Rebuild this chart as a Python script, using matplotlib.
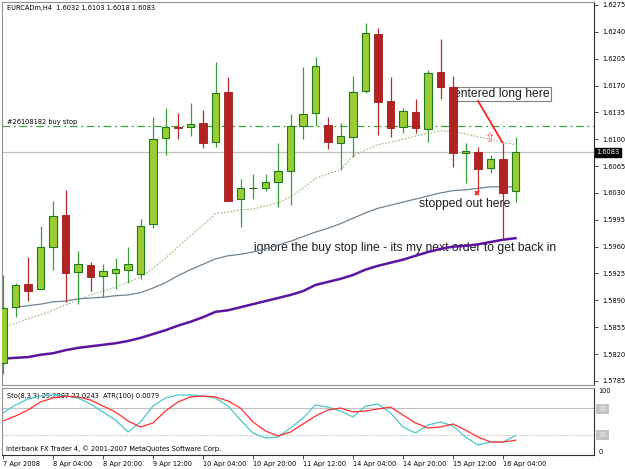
import numpy as np
import matplotlib.pyplot as plt
import matplotlib.transforms as mtransforms

# EURCADm, H4 -- one entry per bar, 7 Apr 12:00 .. 16 Apr 08:00
opens = [1.5808, 1.5881, 1.5911, 1.5905, 1.5960, 1.6001, 1.5927, 1.5936, 1.5922, 1.5926,
         1.5930, 1.5924, 1.5990, 1.6102, 1.6116, 1.6116, 1.6121, 1.6096, 1.6162, 1.6022,
         1.6036, 1.6036, 1.6044, 1.6059, 1.6117, 1.6134, 1.6119, 1.6095, 1.6103, 1.6163,
         1.6237, 1.6150, 1.6116, 1.6136, 1.6113, 1.6188, 1.6168, 1.6082, 1.6083, 1.6062,
         1.6074, 1.6032]
highs = [1.5923, 1.5913, 1.5947, 1.5987, 1.6020, 1.6034, 1.5954, 1.5940, 1.5937, 1.5945,
         1.5960, 1.5996, 1.6129, 1.6141, 1.6134, 1.6147, 1.6138, 1.6201, 1.6181, 1.6048,
         1.6055, 1.6055, 1.6095, 1.6133, 1.6194, 1.6207, 1.6129, 1.6121, 1.6182, 1.6252,
         1.6245, 1.6181, 1.6141, 1.6152, 1.6190, 1.6231, 1.6182, 1.6095, 1.6090, 1.6079,
         1.6095, 1.6103]
lows = [1.5794, 1.5868, 1.5889, 1.5905, 1.5930, 1.5888, 1.5885, 1.5902, 1.5894, 1.5905,
        1.5913, 1.5918, 1.5984, 1.6079, 1.6100, 1.6104, 1.6089, 1.6090, 1.6019, 1.5986,
        1.6022, 1.6033, 1.6012, 1.6014, 1.6100, 1.6117, 1.6087, 1.6060, 1.6077, 1.6160,
        1.6106, 1.6103, 1.6108, 1.6108, 1.6096, 1.6152, 1.6064, 1.6043, 1.6033, 1.6056,
        1.5970, 1.6018]
closes = [1.5880, 1.5910, 1.5902, 1.5960, 1.6000, 1.5926, 1.5937, 1.5920, 1.5928, 1.5931,
          1.5937, 1.5987, 1.6100, 1.6116, 1.6115, 1.6120, 1.6095, 1.6160, 1.6020, 1.6036,
          1.6037, 1.6044, 1.6059, 1.6117, 1.6133, 1.6195, 1.6096, 1.6104, 1.6162, 1.6238,
          1.6149, 1.6115, 1.6137, 1.6115, 1.6186, 1.6168, 1.6082, 1.6085, 1.6061, 1.6074,
          1.6030, 1.6083]

# moving averages
ma_fast = [1.5855, 1.5860, 1.5866, 1.5871, 1.5877, 1.5884, 1.5890, 1.5897, 1.5902, 1.5907,
           1.5914, 1.5920, 1.5932, 1.5945, 1.5960, 1.5974, 1.5988, 1.6003, 1.6005, 1.6008,
           1.6009, 1.6013, 1.6017, 1.6025, 1.6036, 1.6049, 1.6055, 1.6060, 1.6078, 1.6086,
           1.6093, 1.6096, 1.6100, 1.6104, 1.6108, 1.6111, 1.6110, 1.6107, 1.6103, 1.6100,
           1.6096, 1.6093]
ma_mid = [np.nan, 1.5881, 1.5883, 1.5885, 1.5888, 1.5889, 1.5892, 1.5893, 1.5894, 1.5896,
          1.5897, 1.5900, 1.5906, 1.5913, 1.5922, 1.5930, 1.5937, 1.5944, 1.5948, 1.5950,
          1.5953, 1.5957, 1.5962, 1.5967, 1.5973, 1.5979, 1.5984, 1.5990, 1.5997, 1.6004,
          1.6010, 1.6014, 1.6018, 1.6022, 1.6026, 1.6030, 1.6033, 1.6034, 1.6036, 1.6038,
          1.6038, 1.6038]
ma_slow = [1.5814, 1.5815, 1.5816, 1.5819, 1.5821, 1.5825, 1.5828, 1.5830, 1.5832, 1.5834,
           1.5837, 1.5841, 1.5846, 1.5851, 1.5857, 1.5862, 1.5868, 1.5875, 1.5877, 1.5881,
           1.5885, 1.5889, 1.5893, 1.5897, 1.5902, 1.5910, 1.5914, 1.5918, 1.5923, 1.5930,
           1.5935, 1.5939, 1.5943, 1.5948, 1.5953, 1.5957, 1.5960, 1.5961, 1.5963, 1.5966,
           1.5969, 1.5971]

# Stochastic(8,3,3)
sto_main = [62.7, 74.6, 83.6, 88.1, 89.6, 88.1, 85.1, 76.1, 64.2, 52.2,
            34.3, 49.3, 73.1, 85.1, 89.6, 89.6, 88.1, 85.1, 73.1, 52.2,
            32.8, 25.4, 26.9, 40.3, 55.2, 74.6, 71.6, 65.7, 56.7, 73.1,
            76.1, 62.7, 41.8, 32.8, 44.8, 49.3, 43.3, 26.9, 14.9, 19.4,
            19.4, 29.3]
sto_signal = [50.7, 58.2, 67.2, 79.1, 85.1, 88.1, 86.6, 82.1, 73.1, 64.2,
              50.7, 41.8, 47.8, 65.7, 79.1, 86.6, 88.1, 86.6, 80.6, 70.1,
              49.3, 35.8, 28.4, 34.3, 46.3, 58.2, 67.2, 70.1, 64.2, 65.7,
              68.7, 71.6, 59.7, 47.8, 40.3, 41.8, 46.3, 37.3, 26.9, 19.4,
              19.4, 22.0]
sto_levels = [70, 30]

time_labels = ["7 Apr 2008", "8 Apr 04:00", "8 Apr 20:00", "9 Apr 12:00", "10 Apr 04:00",
               "10 Apr 20:00", "11 Apr 12:00", "14 Apr 04:00", "14 Apr 20:00",
               "15 Apr 12:00", "16 Apr 04:00"]
price_ticks = [1.6275, 1.6240, 1.6205, 1.6170, 1.6135, 1.6100, 1.6065, 1.6030,
               1.5995, 1.5960, 1.5925, 1.5890, 1.5855, 1.5820, 1.5785]
buy_stop = 1.6117
bid = 1.6083

W, H = 625, 469
small = dict(family="DejaVu Sans", fontsize=4.8, color="black")
note = dict(family="Liberation Sans", fontsize=8.7, color="#202020")

fig = plt.figure(figsize=(W / 100, H / 100), dpi=100)
fig.patch.set_facecolor("white")
ax = fig.add_axes([2 / W, 1 - 385 / H, 592 / W, 383 / H])
ax2 = fig.add_axes([2 / W, 1 - 455 / H, 592 / W, 67 / H])

x = np.arange(len(opens))
o = np.array(opens); c = np.array(closes)
hi = np.array(highs); lo = np.array(lows)
up = c >= o

# --- main pane ---
ax.plot(x, ma_fast, color="#a4b27c", lw=0.8, ls=(0, (1.5, 1.5)), zorder=2)
ax.plot(x, ma_mid, color="#6f8494", lw=0.9, zorder=2)
ax.plot(x, ma_slow, color="#5d14a0", lw=1.8, zorder=2)
ax.axhline(buy_stop, color="#3aa03a", lw=0.9, ls=(0, (6, 3, 1.5, 3)), zorder=2)
ax.axhline(bid, color="#c0c0c0", lw=0.9, zorder=2)

ax.vlines(x[up], lo[up], hi[up], color="#3c9c3c", lw=0.9, zorder=3)
ax.vlines(x[~up], lo[~up], hi[~up], color="#b52a2a", lw=0.9, zorder=3)
bh = np.where(np.abs(c - o) < 0.00005, 0.00005, c - o)
ax.bar(x[up], bh[up], bottom=o[up], width=0.62, color="#9acd32",
       edgecolor="#1f7a1f", lw=0.8, zorder=4)
ax.bar(x[~up], bh[~up], bottom=o[~up], width=0.62, color="#b22222",
       edgecolor="#a01c1c", lw=0.6, zorder=4)

# annotations
ax.text(36.1, 1.6159, "entered long here", ha="left", va="center", zorder=3.5,
        bbox=dict(boxstyle="square,pad=0.12", fc="white", ec="#808080", lw=0.8), **note)
ax.plot([38.0, 39.95], [1.6150, 1.6096], color="#ff2020", lw=1.3, zorder=5)
ax.text(39.0, 1.6101, "\u21e7", ha="center", va="center", color="#ff5050",
        fontsize=9, family="DejaVu Sans", zorder=5)
ax.plot([37.95], [1.6030], marker="x", color="#ff2020", ms=3.5, mew=1.3, zorder=5)
ax.text(33.3, 1.6016, "stopped out here", ha="left", va="center", zorder=1, **note)
ax.text(20.1, 1.5958, "ignore the buy stop line - its my next order to get back in",
        ha="left", va="center", zorder=1, **note)
ax.text(0.3, 1.6275 - 3 / 7671, "EURCADm,H4  1.6032 1.6103 1.6018 1.6083",
        ha="left", va="center", **small)
ax.text(0.3, buy_stop + 0.0006, "#26108182 buy stop", ha="left", va="center", **small)

ax.set_xlim(-0.08, 47.28)
ax.set_ylim(1.57796, 1.62789)
ax.yaxis.tick_right()
ax.set_yticks(price_ticks)
ax.set_yticklabels([f"{p:.4f}" for p in price_ticks], **small)
ax.tick_params(axis="y", direction="out", length=3, width=0.6, pad=3, color="#303030")
ax.set_xticks([])
tr = mtransforms.blended_transform_factory(ax.transAxes, ax.transData)
ax.text(1.004, bid, f"{bid:.4f}", transform=tr, ha="left", va="center", color="white",
        family="DejaVu Sans", fontsize=4.8,
        bbox=dict(boxstyle="square,pad=0.25", fc="black", ec="black"))
for s in ["left", "top", "bottom"]:
    ax.spines[s].set_color("#909090")
    ax.spines[s].set_linewidth(0.8)
ax.spines["right"].set_color("#303030")
ax.spines["right"].set_linewidth(0.8)

# --- stochastic pane ---
ax2.axhline(sto_levels[0], color="#c0c0c0", lw=0.8)
ax2.axhline(sto_levels[1], color="#c0c0c0", lw=0.8, ls=(0, (1, 1)))
ax2.text(0.008, 0.88, "Sto(8,3,3) 29.2887 22.0243  ATR(100) 0.0079", transform=ax2.transAxes,
         ha="left", va="center", zorder=1, **small)
ax2.text(0.006, 0.1, "Interbank FX Trader 4, \u00a9 2001-2007 MetaQuotes Software Corp.",
         transform=ax2.transAxes, ha="left", va="center", **small)
ax2.plot(x, sto_main, color="#4cc8c8", lw=0.9, zorder=2)
ax2.plot(x, sto_signal, color="#ff3030", lw=0.9, zorder=2)
ax2.set_xlim(-0.08, 47.28)
ax2.set_ylim(0, 100)
ax2.yaxis.tick_right()
ax2.set_yticks([0, sto_levels[1], sto_levels[0], 100])
labs = ax2.set_yticklabels(["0", str(sto_levels[1]), str(sto_levels[0]), "100"], **small)
labs[0].set_va("bottom")
labs[3].set_va("top")
for lb in labs[1:3]:
    lb.set_color("#eeeeee")
    lb.set_bbox(dict(boxstyle="square,pad=0.3", fc="#c4c4c4", ec="none"))
ax2.tick_params(axis="y", length=0, pad=3)
ax2.set_xticks(x[::4])
ax2.set_xticklabels(time_labels, ha="left", **small)
ax2.tick_params(axis="x", direction="out", length=3, width=0.6, pad=1.5, color="#303030")
for s in ["left", "top"]:
    ax2.spines[s].set_color("#909090")
    ax2.spines[s].set_linewidth(0.8)
for s in ["right", "bottom"]:
    ax2.spines[s].set_color("#303030")
    ax2.spines[s].set_linewidth(0.8)

fig.savefig("out.png", dpi=100, facecolor="white")
